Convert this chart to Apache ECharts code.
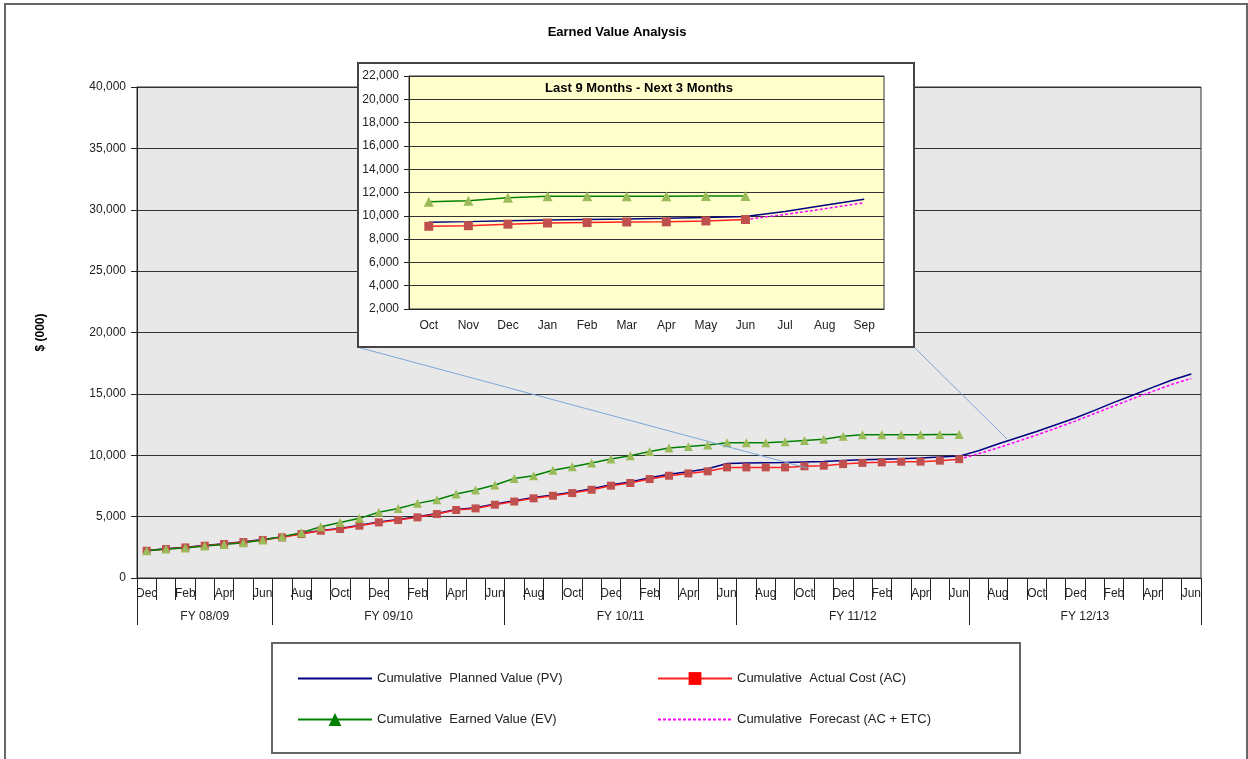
<!DOCTYPE html>
<html>
<head>
<meta charset="utf-8">
<title>Earned Value Analysis</title>
<script src="https://cdn.jsdelivr.net/npm/echarts@6/dist/echarts.min.js"></script>
<style>
    html, body { margin: 0; padding: 0; background: #fff; }
    #main { position: absolute; left: 0; top: 0; width: 1248px; height: 759px; }
    #inset { position: absolute; left: 357px; top: 62px; width: 558px; height: 286px; background: #fff; }
</style>
</head>
<body>
<div id="main"></div>
<div id="inset"></div>
<script>
    // months Dec 08 .. Jun 13
    var months = ['Dec','Jan','Feb','Mar','Apr','May','Jun',
        'Jul','Aug','Sep','Oct','Nov','Dec','Jan','Feb','Mar','Apr','May','Jun',
        'Jul','Aug','Sep','Oct','Nov','Dec','Jan','Feb','Mar','Apr','May','Jun',
        'Jul','Aug','Sep','Oct','Nov','Dec','Jan','Feb','Mar','Apr','May','Jun',
        'Jul','Aug','Sep','Oct','Nov','Dec','Jan','Feb','Mar','Apr','May','Jun'];
    var fyLabels = ['FY 08/09','FY 09/10','FY 10/11','FY 11/12','FY 12/13'];
    var fyMonths = [7, 12, 12, 12, 12];

    var pv = [2240,2380,2510,2650,2800,2960,3130,
        3350,3620,3880,4030,4300,4570,4770,4990,5260,5590,5730,6030,
        6290,6550,6760,6990,7270,7600,7830,8160,8450,8650,8900,9330,
        9370,9390,9400,9450,9500,9580,9640,9680,9720,9780,9850,9930,
        10370,10910,11430,11940,12490,13030,13660,14310,14910,15530,16130,16620];
    var ac = [2220,2360,2490,2630,2770,2930,3100,
        3310,3580,3850,3990,4260,4530,4720,4940,5210,5540,5670,5970,
        6230,6490,6700,6920,7190,7520,7740,8060,8330,8520,8690,9010,
        9010,9010,9010,9100,9150,9280,9380,9420,9470,9480,9560,9680];
    var ev = [2220,2360,2440,2600,2720,2880,3100,
        3370,3690,4180,4530,4860,5350,5670,6080,6380,6840,7170,7570,
        8100,8330,8780,9070,9370,9690,9960,10310,10590,10720,10830,11020,
        11020,11020,11100,11200,11300,11550,11680,11680,11680,11680,11700,11700];
    var forecast = [null,null,null,null,null,null,null,
        null,null,null,null,null,null,null,null,null,null,null,null,
        null,null,null,null,null,null,null,null,null,null,null,null,
        null,null,null,null,null,null,null,null,null,null,null,9680,
        10120,10600,11120,11650,12200,12780,13400,14020,14620,15200,15780,16260];

    var mainTicks = [0, 5000, 10000, 15000, 20000, 25000, 30000, 35000, 40000];
    var insetTicks = [2000, 22000, 2000]; // min, max, step
    var insetFrom = 34, insetTo = 46; // Oct 11 .. Sep 12

    var names = ['Cumulative  Planned Value (PV)', 'Cumulative  Actual Cost (AC)',
        'Cumulative  Earned Value (EV)', 'Cumulative  Forecast (AC + ETC)'];

    var font = 'Arial, "Liberation Sans", sans-serif';
    var fmt = function (v) { return v.toLocaleString('en-US'); };

    // second level axis: half-month slots so FY labels sit in the middle of each span
    var fyAxis = [], fyTickAt = {}, pos = 0;
    for (var i = 0; i <= months.length * 2; i++) fyAxis.push('');
    fyTickAt[0] = true;
    fyLabels.forEach(function (l, k) {
        fyAxis[pos * 2 + fyMonths[k]] = l;
        pos += fyMonths[k];
        fyTickAt[pos * 2] = true;
    });

    var main = echarts.init(document.getElementById('main'));
    main.setOption({
        animation: false,
        textStyle: { fontFamily: font },
        title: {
            text: 'Earned Value Analysis', left: 612, top: 21, textAlign: 'center',
            textStyle: { fontSize: 13, fontWeight: 'bold', color: '#000', fontFamily: font }
        },
        grid: {
            left: 137, top: 87, width: 1064, height: 491, show: true,
            backgroundColor: '#E8E8E8', borderColor: '#333', borderWidth: 1
        },
        xAxis: [{
            type: 'category', data: months, boundaryGap: true,
            axisLine: { lineStyle: { color: '#222' } },
            axisTick: { show: true, interval: 0, length: 22, lineStyle: { color: '#222' } },
            axisLabel: { interval: 1, fontSize: 12, color: '#222', margin: 10, fontFamily: font },
            splitLine: { show: false }
        }, {
            type: 'category', data: fyAxis, boundaryGap: false, position: 'bottom',
            axisLine: { show: false },
            axisTick: { show: true, length: 47, lineStyle: { color: '#222' },
                interval: function (idx) { return !!fyTickAt[idx]; } },
            axisLabel: { interval: 0, fontSize: 12, color: '#222', margin: 33, fontFamily: font },
            splitLine: { show: false }
        }],
        yAxis: {
            type: 'value', min: mainTicks[0], max: mainTicks[mainTicks.length - 1],
            interval: mainTicks[1] - mainTicks[0],
            name: '$ (000)', nameLocation: 'middle', nameRotate: 90, nameGap: 90,
            nameTextStyle: { fontSize: 12, fontWeight: 'bold', color: '#000', fontFamily: font },
            axisLine: { show: true, lineStyle: { color: '#222' } },
            axisTick: { show: true, length: 6, lineStyle: { color: '#222' } },
            axisLabel: { fontSize: 12, color: '#222', margin: 11, formatter: fmt, fontFamily: font },
            splitLine: { lineStyle: { color: '#333', width: 1 } }
        },
        legend: [{
            left: 292, top: 667, orient: 'vertical', itemGap: 28, itemWidth: 74, itemHeight: 16,
            textStyle: { fontSize: 13, color: '#222', fontFamily: font },
            data: [{ name: names[0], itemStyle: { opacity: 0 } },
                   { name: names[2], itemStyle: { color: '#008000' } }]
        }, {
            left: 652, top: 667, orient: 'vertical', itemGap: 28, itemWidth: 74, itemHeight: 16,
            textStyle: { fontSize: 13, color: '#222', fontFamily: font },
            data: [{ name: names[1], itemStyle: { color: '#FF0000' } },
                   { name: names[3], itemStyle: { opacity: 0 } }]
        }],
        graphic: [
            { type: 'rect', z: 0, shape: { x: 5, y: 4, width: 1242, height: 800 },
              style: { fill: 'none', stroke: '#666', lineWidth: 2 } },
            { type: 'rect', z: 0, shape: { x: 272, y: 643, width: 748, height: 110 },
              style: { fill: '#fff', stroke: '#666', lineWidth: 2 } },
            { type: 'line', z: 50, shape: { x1: 357, y1: 347, x2: 807, y2: 468 },
              style: { stroke: '#7EA6D8', lineWidth: 1 } },
            { type: 'line', z: 50, shape: { x1: 914, y1: 347, x2: 1007, y2: 439 },
              style: { stroke: '#7EA6D8', lineWidth: 1 } }
        ],
        series: [{
            name: names[0], type: 'line', data: pv, symbol: 'none',
            lineStyle: { color: '#000080', width: 1.5 }, itemStyle: { color: '#000080' }
        }, {
            name: names[3], type: 'line', data: forecast, symbol: 'none',
            lineStyle: { color: '#FF00FF', width: 1.5, type: [3, 2] }, itemStyle: { color: '#FF00FF' }
        }, {
            name: names[1], type: 'line', data: ac, symbol: 'rect', symbolSize: 8,
            lineStyle: { color: '#FF2020', width: 1.5 }, itemStyle: { color: '#C0504D' }
        }, {
            name: names[2], type: 'line', data: ev, symbol: 'triangle', symbolSize: 9,
            lineStyle: { color: '#008000', width: 1.5 }, itemStyle: { color: '#9BBB59' }
        }]
    });

    var inset = echarts.init(document.getElementById('inset'));
    inset.setOption({
        animation: false,
        textStyle: { fontFamily: font },
        title: {
            text: 'Last 9 Months - Next 3 Months', left: 277, top: 15, textAlign: 'center',
            textStyle: { fontSize: 13, fontWeight: 'bold', color: '#000', fontFamily: font }
        },
        grid: {
            left: 52, top: 14, width: 475, height: 233, show: true,
            backgroundColor: '#FFFFCC', borderColor: '#333', borderWidth: 1
        },
        xAxis: {
            type: 'category', data: months.slice(insetFrom, insetTo), boundaryGap: true,
            axisLine: { lineStyle: { color: '#222' } },
            axisTick: { show: false },
            axisLabel: { interval: 0, fontSize: 12, color: '#222', margin: 11, fontFamily: font }
        },
        yAxis: {
            type: 'value', min: insetTicks[0], max: insetTicks[1], interval: insetTicks[2],
            axisLine: { show: true, lineStyle: { color: '#222' } },
            axisTick: { show: true, length: 5, lineStyle: { color: '#222' } },
            axisLabel: { fontSize: 12, color: '#222', margin: 10, formatter: fmt, fontFamily: font },
            splitLine: { lineStyle: { color: '#333', width: 1 } }
        },
        graphic: [
            { type: 'rect', z: 0, shape: { x: 1, y: 1, width: 556, height: 284 },
              style: { fill: 'none', stroke: '#444', lineWidth: 2 } }
        ],
        series: [{
            type: 'line', data: pv.slice(insetFrom, insetTo), symbol: 'none',
            lineStyle: { color: '#000080', width: 1.5 }
        }, {
            type: 'line', data: forecast.slice(insetFrom, insetTo), symbol: 'none',
            lineStyle: { color: '#FF00FF', width: 1.5, type: [3, 2] }
        }, {
            type: 'line', data: ac.slice(insetFrom, insetTo), symbol: 'rect', symbolSize: 9,
            lineStyle: { color: '#FF2020', width: 1.5 }, itemStyle: { color: '#C0504D' }
        }, {
            type: 'line', data: ev.slice(insetFrom, insetTo), symbol: 'triangle', symbolSize: 10,
            lineStyle: { color: '#008000', width: 1.5 }, itemStyle: { color: '#9BBB59' }
        }]
    });
</script>
</body>
</html>
